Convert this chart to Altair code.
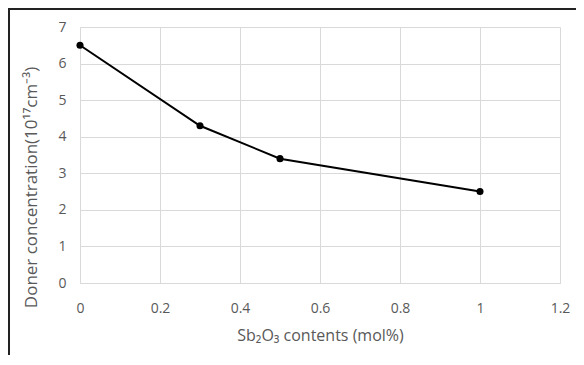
import altair as alt
import pandas as pd

sb2o3 = [0, 0.3, 0.5, 1.0]
donor = [6.5, 4.3, 3.4, 2.5]

df = pd.DataFrame({"x": sb2o3, "y": donor})

FONT = "Open Sans"
GREY = "#595959"

x = alt.X("x:Q", scale=alt.Scale(domain=[0, 1.2], nice=False),
          axis=alt.Axis(values=[0, 0.2, 0.4, 0.6, 0.8, 1.0, 1.2], format="~g",
                        title="Sb₂O₃ contents (mol%)", titleFontSize=16,
                        titleY=52, titleBaseline="middle"))
y = alt.Y("y:Q", scale=alt.Scale(domain=[0, 7], nice=False),
          axis=alt.Axis(values=[0, 1, 2, 3, 4, 5, 6, 7],
                        title="Doner concentration(10¹⁷cm⁻³)", titleFontSize=17,
                        titleX=-49, titleY=160, titleBaseline="middle"))

line = alt.Chart(df).mark_line(color="black", strokeWidth=2).encode(x=x, y=y)
pts = alt.Chart(df).mark_circle(color="black", size=50, opacity=1).encode(x=x, y=y)

border = alt.Chart(df).mark_rule(color="#222222", strokeWidth=2, clip=False).encode(
    x=alt.value(-71), x2=alt.value(600), y=alt.value(-18))
border2 = alt.Chart(df).mark_rule(color="#222222", strokeWidth=2, clip=False).encode(
    x=alt.value(-71), y=alt.value(-19), y2=alt.value(400))

chart = alt.layer(border, border2, line, pts).properties(
    width=480, height=256,
    autosize=alt.AutoSizeParams(type="none"),
    padding={"left": 72, "top": 19, "right": 16, "bottom": 72},
    background="white",
).configure_view(stroke=None).configure_axis(
    grid=True, gridColor="#d9d9d9", gridWidth=1,
    domain=False, ticks=False, labelFlush=False,
    labelFont=FONT, labelFontSize=14, labelColor=GREY,
    titleFont=FONT, titleColor=GREY, titleFontWeight="normal",
    labelPadding=14,
).configure_axisX(labelPadding=18, domain=True, domainColor="#d9d9d9")

chart.save("out.html", embed_options={"renderer": "svg", "actions": False})
